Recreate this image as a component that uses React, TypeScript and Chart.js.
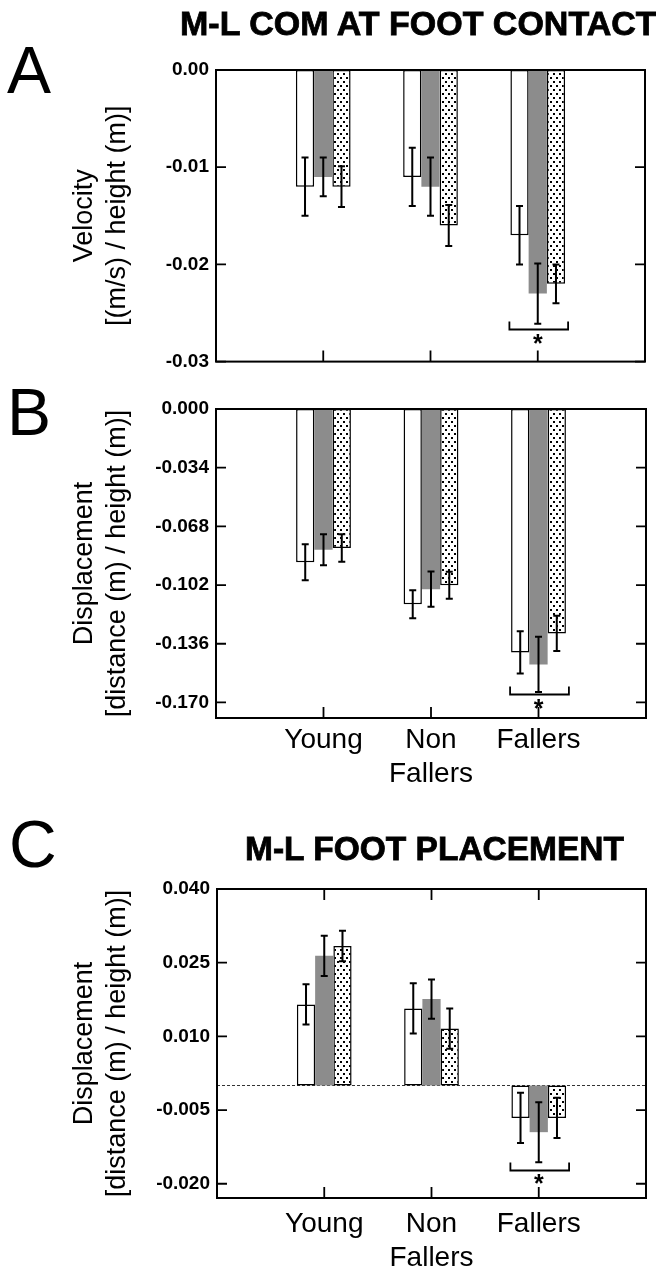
import React, { useEffect, useRef } from 'react';
import { Chart, registerables } from 'chart.js';

Chart.register(...registerables);

const FONT = '"Liberation Sans", Arial, Helvetica, sans-serif';

// ---------- shared categories ----------
const categories: (string | string[])[] = ['Young', ['Non', 'Fallers'], 'Fallers'];

// ---------- Panel A: M-L COM velocity at foot contact ----------
const velWhite = [-0.012, -0.011, -0.017];
const velWhiteErr = [0.003, 0.003, 0.003];
const velGray = [-0.011, -0.012, -0.023];
const velGrayErr = [0.002, 0.003, 0.0031];
const velDotted = [-0.012, -0.016, -0.022];
const velDottedErr = [0.0021, 0.0021, 0.002];
const velTicks = [0, -0.01, -0.02, -0.03];
const velTickLabels = ['0.00', '-0.01', '-0.02', '-0.03'];
const velRange = [-0.03, 0];
const velBracket = -0.0267;
const velTitle = ['Velocity', '[(m/s) / height (m)]'];

// ---------- Panel B: M-L COM displacement at foot contact ----------
const dispWhite = [-0.0888, -0.1131, -0.141];
const dispWhiteErr = [0.0104, 0.0081, 0.0122];
const dispGray = [-0.0815, -0.1044, -0.148];
const dispGrayErr = [0.009, 0.0102, 0.016];
const dispDotted = [-0.0805, -0.1021, -0.13];
const dispDottedErr = [0.008, 0.0078, 0.0102];
const dispTicks = [0, -0.034, -0.068, -0.102, -0.136, -0.17];
const dispTickLabels = ['0.000', '-0.034', '-0.068', '-0.102', '-0.136', '-0.170'];
const dispRange = [-0.179, 0];
const dispBracket = -0.1654;
const dispTitle = ['Displacement', '[distance (m) / height (m)]'];

// ---------- Panel C: M-L foot placement ----------
const footWhite = [0.0165, 0.0157, -0.0066];
const footWhiteErr = [0.0041, 0.0051, 0.0051];
const footGray = [0.0264, 0.0176, -0.0095];
const footGrayErr = [0.0041, 0.004, 0.0061];
const footDotted = [0.0284, 0.0116, -0.0066];
const footDottedErr = [0.0031, 0.0041, 0.0041];
const footTicks = [0.04, 0.025, 0.01, -0.005, -0.02];
const footTickLabels = ['0.040', '0.025', '0.010', '-0.005', '-0.020'];
const footRange = [-0.0229, 0.04];
const footBracket = -0.0173;
const footTitle = ['Displacement', '[distance (m) / height (m)]'];

const sigCategoryIndex = 3; // "Fallers" in padded label list

function makeDots(): CanvasPattern | string {
  const c = document.createElement('canvas');
  c.width = 6;
  c.height = 8;
  const g = c.getContext('2d');
  if (!g) return '#ddd';
  g.fillStyle = '#fff';
  g.fillRect(0, 0, 6, 8);
  g.fillStyle = '#000';
  g.fillRect(1, 1, 2, 2);
  g.fillRect(4, 5, 2, 2);
  return g.createPattern(c, 'repeat') || '#ddd';
}

const decorPlugin = {
  id: 'decor',
  beforeDatasetsDraw(chart: any, _a: any, opts: any) {
    if (!opts.zeroLine) return;
    const { ctx, chartArea: a, scales } = chart;
    const py = scales.y.getPixelForValue(0);
    ctx.save();
    ctx.strokeStyle = '#333';
    ctx.lineWidth = 1;
    ctx.setLineDash([3, 2]);
    ctx.beginPath();
    ctx.moveTo(a.left, py);
    ctx.lineTo(a.right, py);
    ctx.stroke();
    ctx.restore();
  },
  afterDatasetsDraw(chart: any, _a: any, opts: any) {
    const { ctx, scales } = chart;
    const y = scales.y;
    const x = scales.x;
    ctx.save();
    ctx.strokeStyle = '#000';
    ctx.lineCap = 'butt';
    // error bars
    (opts.errors || []).forEach((errs: number[], di: number) => {
      const meta = chart.getDatasetMeta(di);
      const vals = chart.data.datasets[di].data;
      errs.forEach((e: number, k: number) => {
        const idx = k + 1;
        const el = meta.data[idx];
        const v = vals[idx];
        if (!el || v == null) return;
        const y1 = y.getPixelForValue(v - e);
        const y2 = y.getPixelForValue(v + e);
        ctx.lineWidth = 2;
        ctx.beginPath();
        ctx.moveTo(el.x, y1);
        ctx.lineTo(el.x, y2);
        ctx.moveTo(el.x - 3.5, y1);
        ctx.lineTo(el.x + 3.5, y1);
        ctx.moveTo(el.x - 3.5, y2);
        ctx.lineTo(el.x + 3.5, y2);
        ctx.stroke();
      });
    });
    // significance bracket
    if (opts.bracket != null) {
      const i = opts.bracketIndex;
      const e0 = chart.getDatasetMeta(0).data[i];
      const e2 = chart.getDatasetMeta(2).data[i];
      const left = e0.x - e0.width / 2 - 1;
      const right = e2.x + e2.width / 2 + 3;
      const by = y.getPixelForValue(opts.bracket);
      ctx.lineWidth = 1.8;
      ctx.beginPath();
      ctx.moveTo(left, by - 8);
      ctx.lineTo(left, by);
      ctx.lineTo(right, by);
      ctx.lineTo(right, by - 8);
      ctx.stroke();
      ctx.fillStyle = '#000';
      ctx.font = 'bold 25px ' + FONT;
      ctx.textAlign = 'center';
      ctx.textBaseline = 'alphabetic';
      ctx.fillText('*', x.getPixelForTick(i), by + 22);
    }
    ctx.restore();
  },
  afterDraw(chart: any, _a: any, opts: any) {
    const { ctx, chartArea: a, scales } = chart;
    const y = scales.y;
    const x = scales.x;
    const L = 10;
    ctx.save();
    ctx.strokeStyle = '#000';
    ctx.lineWidth = 2;
    ctx.strokeRect(a.left, a.top, a.right - a.left, a.bottom - a.top);
    ctx.lineWidth = 1.8;
    ctx.beginPath();
    y.ticks.forEach((t: any) => {
      const py = y.getPixelForValue(t.value);
      ctx.moveTo(a.left, py);
      ctx.lineTo(a.left + L, py);
      ctx.moveTo(a.right - L, py);
      ctx.lineTo(a.right, py);
    });
    for (let i = 1; i < x.ticks.length - 1; i++) {
      const px = x.getPixelForTick(i);
      ctx.moveTo(px, a.bottom);
      ctx.lineTo(px, a.bottom - L - 1);
      if (opts.topTicks) {
        ctx.moveTo(px, a.top);
        ctx.lineTo(px, a.top + L + 1);
      }
    }
    ctx.stroke();
    ctx.restore();
  },
};

interface Spec {
  height: number;
  padTop: number;
  padRight: number;
  yWidth: number;
  xHeight: number;
  showX: boolean;
  xPad: number;
  white: number[];
  whiteErr: number[];
  gray: number[];
  grayErr: number[];
  dotted: number[];
  dottedErr: number[];
  ticks: number[];
  tickLabels: string[];
  range: number[];
  bracket: number;
  title: string[];
  zeroLine: boolean;
  topTicks: boolean;
}

function buildConfig(s: Spec): any {
  const pad = (arr: number[]) => [null, ...arr, null];
  const labels = ['', ...categories, ''];
  return {
    type: 'bar',
    data: {
      labels,
      datasets: [
        {
          data: pad(s.white),
          backgroundColor: '#ffffff',
          borderColor: '#000',
          borderWidth: 1.5,
          borderSkipped: false,
        },
        {
          data: pad(s.gray),
          backgroundColor: '#8c8c8c',
          borderWidth: 0,
        },
        {
          data: pad(s.dotted),
          backgroundColor: makeDots(),
          borderColor: '#000',
          borderWidth: 1.5,
          borderSkipped: false,
        },
      ],
    },
    options: {
      responsive: false,
      animation: false,
      devicePixelRatio: 1,
      layout: { padding: { top: s.padTop, right: s.padRight, left: 0, bottom: 0 } },
      datasets: { bar: { categoryPercentage: 0.51, barPercentage: 1.0 } },
      plugins: {
        legend: { display: false },
        tooltip: { enabled: false },
        title: { display: false },
        decor: {
          errors: [s.whiteErr, s.grayErr, s.dottedErr],
          bracket: s.bracket,
          bracketIndex: sigCategoryIndex,
          zeroLine: s.zeroLine,
          topTicks: s.topTicks,
        },
      },
      scales: {
        x: {
          type: 'category',
          offset: false,
          grid: { display: false, drawTicks: false },
          border: { display: false },
          ticks: {
            display: s.showX,
            autoSkip: false,
            maxRotation: 0,
            minRotation: 0,
            padding: s.xPad,
            color: '#000',
            font: { family: FONT, size: 28, lineHeight: 34 / 28 },
          },
          afterFit: (sc: any) => {
            sc.height = s.xHeight;
          },
        },
        y: {
          type: 'linear',
          min: s.range[0],
          max: s.range[1],
          afterBuildTicks: (sc: any) => {
            sc.ticks = s.ticks.map((v) => ({ value: v }));
          },
          grid: { display: false, drawTicks: false },
          border: { display: false },
          ticks: {
            autoSkip: false,
            padding: 7,
            color: '#000',
            font: { family: FONT, size: 19, weight: 'bold' },
            callback: (_v: any, i: number) => s.tickLabels[i],
          },
          title: {
            display: true,
            text: s.title,
            color: '#000',
            font: { family: FONT, size: 27, lineHeight: 33 / 27 },
            padding: { top: 68.5, bottom: 0 },
          },
          afterFit: (sc: any) => {
            sc.width = s.yWidth;
          },
        },
      },
    },
    plugins: [decorPlugin],
  };
}

function Panel({ top, spec }: { top: number; spec: Spec }) {
  const ref = useRef<HTMLCanvasElement>(null);
  useEffect(() => {
    if (!ref.current) return;
    const chart = new Chart(ref.current, buildConfig(spec));
    return () => chart.destroy();
  }, []);
  return (
    <canvas
      ref={ref}
      width={656}
      height={spec.height}
      style={{ position: 'absolute', left: 0, top, width: 656, height: spec.height, display: 'block' }}
    />
  );
}

const specA: Spec = {
  height: 380, padTop: 70, padRight: 11, yWidth: 216, xHeight: 17, showX: false, xPad: 0,
  white: velWhite, whiteErr: velWhiteErr, gray: velGray, grayErr: velGrayErr,
  dotted: velDotted, dottedErr: velDottedErr,
  ticks: velTicks, tickLabels: velTickLabels, range: velRange, bracket: velBracket,
  title: velTitle, zeroLine: false, topTicks: false,
};

const specB: Spec = {
  height: 420, padTop: 29, padRight: 10, yWidth: 216, xHeight: 82, showX: true, xPad: 5,
  white: dispWhite, whiteErr: dispWhiteErr, gray: dispGray, grayErr: dispGrayErr,
  dotted: dispDotted, dottedErr: dispDottedErr,
  ticks: dispTicks, tickLabels: dispTickLabels, range: dispRange, bracket: dispBracket,
  title: dispTitle, zeroLine: false, topTicks: false,
};

const specC: Spec = {
  height: 471, padTop: 89, padRight: 10, yWidth: 217, xHeight: 73, showX: true, xPad: 9,
  white: footWhite, whiteErr: footWhiteErr, gray: footGray, grayErr: footGrayErr,
  dotted: footDotted, dottedErr: footDottedErr,
  ticks: footTicks, tickLabels: footTickLabels, range: footRange, bracket: footBracket,
  title: footTitle, zeroLine: true, topTicks: true,
};

const letterStyle: React.CSSProperties = {
  position: 'absolute',
  fontSize: 66,
  lineHeight: 1,
  fontFamily: FONT,
  color: '#000',
};

const titleStyle: React.CSSProperties = {
  position: 'absolute',
  lineHeight: 1,
  fontWeight: 'bold',
  fontFamily: FONT,
  color: '#000',
  whiteSpace: 'nowrap',
  WebkitTextStroke: '0.8px #000',
};

export default function App() {
  return (
    <div
      style={{
        position: 'absolute',
        left: 0,
        top: 0,
        width: 656,
        height: 1271,
        background: '#fff',
        overflow: 'hidden',
      }}
    >
      <Panel top={0} spec={specA} />
      <Panel top={380} spec={specB} />
      <Panel top={800} spec={specC} />
      <div style={{ ...letterStyle, left: 7, top: 37 }}>A</div>
      <div style={{ ...letterStyle, left: 7, top: 379 }}>B</div>
      <div style={{ ...letterStyle, left: 9, top: 811 }}>C</div>
      <div style={{ ...titleStyle, fontSize: 34, left: 180, top: 6 }}>M-L COM AT FOOT CONTACT</div>
      <div style={{ ...titleStyle, fontSize: 33.5, left: 245, top: 832 }}>M-L FOOT PLACEMENT</div>
    </div>
  );
}
